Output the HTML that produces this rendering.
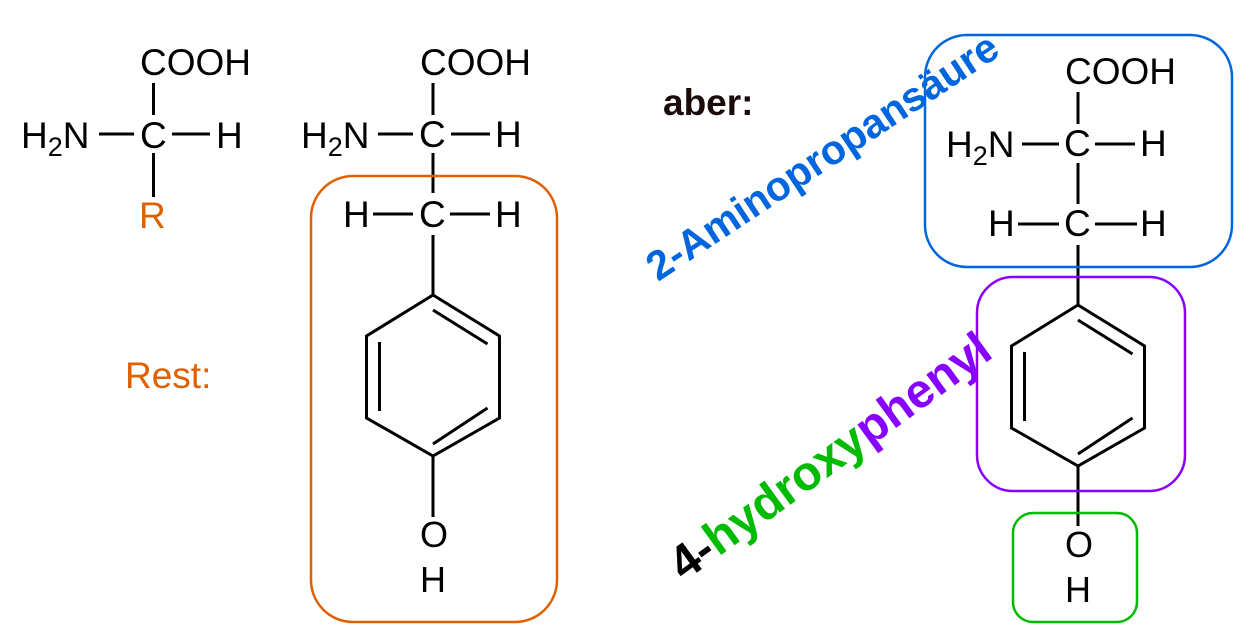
<!DOCTYPE html>
<html><head><meta charset="utf-8"><style>
html,body{margin:0;padding:0;background:#fff}
svg{display:block}
text{font-family:"Liberation Sans",sans-serif}
</style></head><body>
<svg width="1257" height="641" viewBox="0 0 1257 641" xmlns="http://www.w3.org/2000/svg">
<defs>
<g id="ring" stroke="#000" stroke-width="3" fill="none">
  <polygon points="0,0 66.5,41 66.5,123 0,161 -66.5,123 -66.5,41"/>
  <line x1="0" y1="15" x2="54.5" y2="49"/>
  <line x1="-53.5" y1="47" x2="-53.5" y2="116"/>
  <line x1="0" y1="149" x2="54.5" y2="113"/>
</g>
</defs>
<!-- Structure 1 -->
<g font-size="37" fill="#000">
  <text x="140" y="75">COOH</text>
  <text x="21" y="148">H<tspan font-size="27" dy="8">2</tspan><tspan dy="-8">N</tspan></text>
  <text x="140" y="148">C</text>
  <text x="216" y="148">H</text>
  <text x="139" y="228" fill="#e06000">R</text>
</g>
<g stroke="#000" stroke-width="3">
  <line x1="153.5" y1="83" x2="153.5" y2="115"/>
  <line x1="153.5" y1="153" x2="153.5" y2="197"/>
  <line x1="99" y1="134" x2="134" y2="134"/>
  <line x1="172" y1="134" x2="210" y2="134"/>
</g>
<text x="125" y="388" font-size="37" fill="#e06000">Rest:</text>

<!-- Structure 2 -->
<g font-size="37" fill="#000">
  <text x="420" y="75">COOH</text>
  <text x="301" y="148">H<tspan font-size="27" dy="8">2</tspan><tspan dy="-8">N</tspan></text>
  <text x="419" y="147">C</text>
  <text x="495" y="147">H</text>
  <text x="343" y="227">H</text>
  <text x="419" y="227">C</text>
  <text x="495" y="227">H</text>
  <text x="420" y="547" font-size="36">O</text>
  <text x="420" y="592" font-size="36">H</text>
</g>
<g stroke="#000" stroke-width="3">
  <line x1="433" y1="83" x2="433" y2="115"/>
  <line x1="433" y1="153" x2="433" y2="193"/>
  <line x1="433" y1="235" x2="433" y2="295"/>
  <line x1="433" y1="456" x2="433" y2="517"/>
  <line x1="378" y1="134" x2="413" y2="134"/>
  <line x1="451" y1="134" x2="490" y2="134"/>
  <line x1="373" y1="214" x2="413" y2="214"/>
  <line x1="450" y1="214" x2="490" y2="214"/>
</g>
<use href="#ring" x="433" y="295"/>
<rect x="311" y="176" width="246" height="446" rx="42" fill="none" stroke="#e06000" stroke-width="2.5"/>

<!-- aber -->
<text x="663" y="115" font-size="37" font-weight="bold" fill="#1a0a0a">aber:</text>

<!-- Structure 3 -->
<g font-size="37" fill="#000">
  <text x="1065" y="84">COOH</text>
  <text x="946" y="157">H<tspan font-size="27" dy="8">2</tspan><tspan dy="-8">N</tspan></text>
  <text x="1064" y="156">C</text>
  <text x="1140" y="156">H</text>
  <text x="988" y="236">H</text>
  <text x="1064" y="236">C</text>
  <text x="1140" y="236">H</text>
  <text x="1065" y="557" font-size="36">O</text>
  <text x="1065" y="602" font-size="36">H</text>
</g>
<g stroke="#000" stroke-width="3">
  <line x1="1078" y1="92" x2="1078" y2="124"/>
  <line x1="1078" y1="163" x2="1078" y2="204"/>
  <line x1="1078" y1="245" x2="1078" y2="305"/>
  <line x1="1078" y1="466" x2="1078" y2="526"/>
  <line x1="1022" y1="144" x2="1059" y2="144"/>
  <line x1="1095" y1="144" x2="1135" y2="144"/>
  <line x1="1018" y1="224" x2="1059" y2="224"/>
  <line x1="1095" y1="224" x2="1137" y2="224"/>
</g>
<use href="#ring" x="1078" y="305"/>
<rect x="925" y="35" width="307" height="232" rx="42" fill="none" stroke="#0066dd" stroke-width="2.5"/>
<rect x="977" y="277" width="208" height="214" rx="36" fill="none" stroke="#8800ff" stroke-width="2.5"/>
<rect x="1013" y="513" width="124" height="109" rx="20" fill="none" stroke="#00bb00" stroke-width="2.5"/>

<!-- rotated labels -->
<text transform="translate(658,282) rotate(-33.5)" font-size="41" font-weight="bold" fill="#0066dd">2-Aminopropansäure</text>
<text transform="translate(684,582) rotate(-36)" font-size="48" font-weight="bold"><tspan fill="#000">4-</tspan><tspan fill="#00bb00">hydroxy</tspan><tspan fill="#8800ff">phenyl</tspan></text>
</svg>
</body></html>
